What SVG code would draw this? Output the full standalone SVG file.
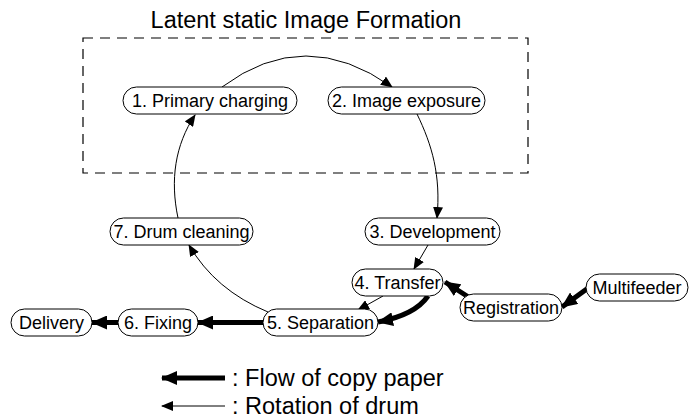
<svg xmlns="http://www.w3.org/2000/svg" width="700" height="420" viewBox="0 0 700 420">
<defs>
<style>
text{font-family:"Liberation Sans",Arial,sans-serif;fill:#000}
.nt{font-size:18px;text-anchor:middle}
.big{font-size:23.5px}
.node rect{fill:#fff;stroke:#000;stroke-width:1}
.thin{fill:none;stroke:#000;stroke-width:1}
.thick{fill:none;stroke:#000;stroke-width:5}
</style>
<marker id="ah" markerUnits="userSpaceOnUse" markerWidth="12" markerHeight="10" refX="11" refY="5" orient="auto">
<path d="M0,0 L12,5 L0,10 Z" fill="#000"/>
</marker>
<marker id="ahb" markerUnits="userSpaceOnUse" markerWidth="16" markerHeight="14" refX="15" refY="7" orient="auto">
<path d="M0,0 L16,7 L0,14 Z" fill="#000"/>
</marker>
</defs>
<rect width="700" height="420" fill="#fff"/>
<text class="big" x="306" y="28" style="text-anchor:middle">Latent static Image Formation</text>
<rect x="83" y="38" width="445" height="135" fill="none" stroke="#000" stroke-width="1.2" stroke-dasharray="10,7"/>
<g id="connectors">
<path class="thin" d="M222,87 Q305,25 392,87" marker-end="url(#ah)"/>
<path class="thin" d="M417,114 C432,145 441,175 437,218" marker-end="url(#ah)"/>
<path class="thin" d="M428,245 L414,269" marker-end="url(#ah)"/>
<path class="thin" d="M383,296 L358,310" marker-end="url(#ah)"/>
<path class="thin" d="M268,312 Q215,290 189,245" marker-end="url(#ah)"/>
<path class="thin" d="M178,218 C170,180 175,145 195,115" marker-end="url(#ah)"/>
<path class="thick" d="M595,283 L562,307" marker-end="url(#ahb)"/>
<path class="thick" d="M470,298 L445,282" marker-end="url(#ahb)"/>
<path class="thick" d="M428,296 Q415,315 378,322" marker-end="url(#ahb)"/>
<path class="thick" d="M263,322.5 L198,322.5" marker-end="url(#ahb)"/>
<path class="thick" d="M118,322.5 L92,322.5" marker-end="url(#ahb)"/>
</g>
<g id="n1" class="node"><rect x="123" y="87" width="174" height="27" rx="13.5"/><text class="nt" x="210" y="107">1. Primary charging</text></g>
<g id="n2" class="node"><rect x="328" y="87" width="157" height="27" rx="13.5"/><text class="nt" x="406.5" y="107">2. Image exposure</text></g>
<g id="n3" class="node"><rect x="365" y="218" width="135" height="27" rx="13.5"/><text class="nt" x="432.5" y="238">3. Development</text></g>
<g id="n7" class="node"><rect x="110" y="218" width="143" height="27" rx="13.5"/><text class="nt" x="181.5" y="238">7. Drum cleaning</text></g>
<g id="n4" class="node"><rect x="352" y="269" width="91" height="27" rx="13.5"/><text class="nt" x="397.5" y="289">4. Transfer</text></g>
<g id="n5" class="node"><rect x="263" y="309" width="115" height="27" rx="13.5"/><text class="nt" x="320.5" y="329">5. Separation</text></g>
<g id="n6" class="node"><rect x="118" y="309" width="80" height="27" rx="13.5"/><text class="nt" x="158" y="329">6. Fixing</text></g>
<g id="delivery" class="node"><rect x="11" y="309" width="81" height="27" rx="13.5"/><text class="nt" x="51.5" y="329">Delivery</text></g>
<g id="registration" class="node"><rect x="460" y="294" width="102" height="27" rx="13.5"/><text class="nt" x="511" y="314">Registration</text></g>
<g id="multifeeder" class="node"><rect x="586" y="274" width="102" height="27" rx="13.5"/><text class="nt" x="637" y="294">Multifeeder</text></g>
<g id="legend">
<path class="thick" d="M225,378 L162,378" marker-end="url(#ahb)"/>
<text class="big" x="232" y="386">: Flow of copy paper</text>
<path class="thin" d="M225,406 L162,406" marker-end="url(#ah)"/>
<text class="big" x="232" y="414">: Rotation of drum</text>
</g>
</svg>
